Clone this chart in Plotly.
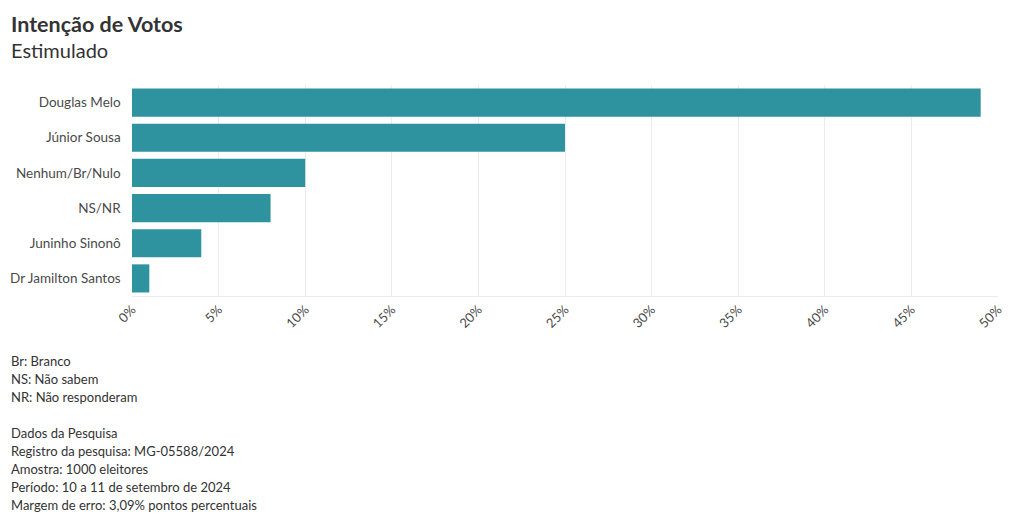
import plotly.graph_objects as go

categories = ["Douglas Melo", "Júnior Sousa", "Nenhum/Br/Nulo", "NS/NR", "Juninho Sinonô", "Dr Jamilton Santos"]
values = [49, 25, 10, 8, 4, 1]
tick_vals = [0, 5, 10, 15, 20, 25, 30, 35, 40, 45, 50]
tick_text = [f"{v}%" for v in tick_vals]
title = "Intenção de Votos"
subtitle = "Estimulado"
notes = [
    "Br: Branco",
    "NS: Não sabem",
    "NR: Não responderam",
    "",
    "Dados da Pesquisa",
    "Registro da pesquisa: MG-05588/2024",
    "Amostra: 1000 eleitores",
    "Período: 10 a 11 de setembro de 2024",
    "Margem de erro: 3,09% pontos percentuais",
]

FONT = "Lato"

fig = go.Figure(go.Bar(
    x=values, y=categories, orientation="h",
    marker=dict(color="#2e939e", line=dict(width=0)),
    hoverinfo="x+y",
))

fig.update_layout(
    width=1020, height=524,
    margin=dict(l=132, r=22, t=85, b=228, autoexpand=False),
    paper_bgcolor="white", plot_bgcolor="white",
    font=dict(family=FONT, size=13, color="#444444"),
    showlegend=False,
    bargap=0.2,
    xaxis=dict(range=[0, 50], tickvals=tick_vals, ticktext=tick_text, tickangle=-45,
               showgrid=True, gridcolor="#ececec", gridwidth=1, zeroline=False,
               showline=True, linecolor="#ececec", ticks="", ticklen=0,
               tickfont=dict(size=13, color="#4a4a4a"), fixedrange=True),
    yaxis=dict(autorange="reversed", showgrid=False, zeroline=False, ticks="",
               ticksuffix="   ", tickfont=dict(size=13.5, color="#4a4a4a"), fixedrange=True),
)

# convert pixel positions into paper coordinates
ph = 524 - 85 - 228
pw = 1020 - 132 - 22
def px_to_paper_x(px):
    return (px - 132) / pw
def px_to_paper_y(py):
    return (524 - 228 - py) / ph

anns = [
    dict(text=f"<b>{title}</b>", x=px_to_paper_x(9), y=px_to_paper_y(24),
         xref="paper", yref="paper", showarrow=False, xanchor="left", yanchor="middle",
         font=dict(size=21.5, color="#333333", family=FONT)),
    dict(text=subtitle, x=px_to_paper_x(9), y=px_to_paper_y(50),
         xref="paper", yref="paper", showarrow=False, xanchor="left", yanchor="middle",
         font=dict(size=20, color="#333333", family=FONT)),
]

for i, line in enumerate(notes):
    if not line:
        continue
    anns.append(dict(text=line, x=px_to_paper_x(9), y=px_to_paper_y(361 + 18 * i),
                     xref="paper", yref="paper", showarrow=False,
                     xanchor="left", yanchor="middle",
                     font=dict(size=13, color="#333333", family=FONT)))

fig.update_layout(annotations=anns)
fig.write_html("out.html", config={"displayModeBar": False},
               post_script="document.body.style.margin='0';document.body.style.padding='0';")
